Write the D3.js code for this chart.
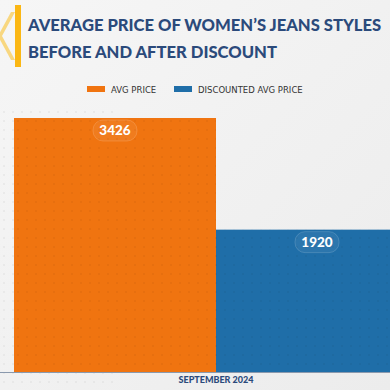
<!DOCTYPE html>
<html>
<head>
<meta charset="utf-8">
<script src="https://cdn.jsdelivr.net/npm/d3@7"></script>
<style>
	html, body { margin: 0; padding: 0; background: #f0f0f0; }
	#app { width: 390px; height: 390px; }
</style>
</head>
<body>
<div id="app"></div>
<script>
const months = ['SEPTEMBER 2024'];
const seriesNames = ['AVG PRICE', 'DISCOUNTED AVG PRICE'];
const seriesColors = ['#f07410', '#1f6ea8'];
const avgPrice = [3426];
const discountedPrice = [1920];
const titleLines = ['AVERAGE PRICE OF WOMEN\u2019S JEANS STYLES', 'BEFORE AND AFTER DISCOUNT'];

const width = 390;
const height = 390;
const svg = d3.select('#app').append('svg')
	.attr('width', width)
	.attr('height', height);

const defs = svg.append('defs');
const bgGrad = defs.append('linearGradient').attr('id', 'bg')
	.attr('x1', 0).attr('y1', 0).attr('x2', 1).attr('y2', 1);
bgGrad.append('stop').attr('offset', 0).attr('stop-color', '#f6f6f6');
bgGrad.append('stop').attr('offset', 1).attr('stop-color', '#ececec');

const dots = defs.append('pattern').attr('id', 'dots')
	.attr('width', 9).attr('height', 9).attr('patternUnits', 'userSpaceOnUse');
dots.append('circle').attr('cx', 4).attr('cy', 4).attr('r', 1).attr('fill', 'rgba(0,0,0,0.05)');

svg.append('rect').attr('width', width).attr('height', height).attr('fill', 'url(#bg)');
svg.append('rect').attr('x', 0).attr('y', 110).attr('width', 120).attr('height', 280).attr('fill', 'url(#dots)');

// header decoration
svg.append('path')
	.attr('d', 'M15,12 L2,36 L15,60 L11,60 L-2,36 L11,12 Z')
	.attr('fill', '#f9cf63').attr('opacity', 0.8);
svg.append('rect').attr('x', 15).attr('y', 5).attr('width', 6).attr('height', 62).attr('fill', '#fbb714');

svg.append('g').selectAll('text')
	.data(titleLines)
	.join('text')
	.attr('x', 28)
	.attr('y', (d, i) => 31 + i * 27)
	.attr('fill', '#2b4a7b')
	.attr('font-family', 'Lato, sans-serif')
	.attr('font-weight', 900)
	.attr('font-size', 16.6)
	.text((d) => d);

// legend
const legendX = [87, 174];
const legend = svg.append('g').selectAll('g')
	.data(seriesNames)
	.join('g')
	.attr('transform', (d, i) => `translate(${legendX[i]}, 89)`);
legend.append('rect').attr('x', 0).attr('y', -3).attr('width', 18).attr('height', 6)
	.attr('fill', (d, i) => seriesColors[i]);
legend.append('text').attr('x', 24).attr('y', 3.5)
	.attr('font-family', 'DejaVu Sans, sans-serif')
	.attr('font-size', 8.5)
	.attr('fill', '#333')
	.text((d) => d);

// chart
const x0 = d3.scaleBand().domain(months).range([14, 418]).padding(0);
const x1 = d3.scaleBand().domain(seriesNames).range([0, x0.bandwidth()]).padding(0);
const y = d3.scaleLinear().domain([0, 3426]).range([372, 118]);

const rows = months.map((m, i) => ({ month: m, values: [avgPrice[i], discountedPrice[i]] }));

const groups = svg.append('g').selectAll('g')
	.data(rows)
	.join('g')
	.attr('transform', (d) => `translate(${x0(d.month)},0)`);

const bars = groups.selectAll('g')
	.data((d) => d.values.map((v, i) => ({ key: seriesNames[i], value: v, i })))
	.join('g');

bars.append('rect')
	.attr('x', (d) => x1(d.key))
	.attr('y', (d) => y(d.value))
	.attr('width', x1.bandwidth())
	.attr('height', (d) => y(0) - y(d.value))
	.attr('fill', (d) => seriesColors[d.i]);
bars.append('rect')
	.attr('x', (d) => x1(d.key))
	.attr('y', (d) => y(d.value))
	.attr('width', x1.bandwidth())
	.attr('height', (d) => y(0) - y(d.value))
	.attr('fill', 'url(#dots)');

bars.append('rect')
	.attr('x', (d) => x1(d.key) + x1.bandwidth() / 2 - 22)
	.attr('y', (d) => y(d.value) + 2)
	.attr('width', 44)
	.attr('height', 21)
	.attr('rx', 10)
	.attr('fill', 'rgba(255,255,255,0.06)')
	.attr('stroke', 'rgba(255,255,255,0.15)');
bars.append('text')
	.attr('x', (d) => x1(d.key) + x1.bandwidth() / 2)
	.attr('y', (d) => y(d.value) + 17)
	.attr('text-anchor', 'middle')
	.attr('fill', '#fff')
	.attr('font-family', 'Lato, sans-serif')
	.attr('font-weight', 900)
	.attr('font-size', 13.5)
	.text((d) => d.value);

// x axis
const axis = svg.append('g').attr('transform', `translate(0,${y(0)})`);
axis.append('line').attr('x1', 0).attr('x2', width).attr('y1', 0.5).attr('y2', 0.5)
	.attr('stroke', '#8a99ad').attr('stroke-width', 1);
axis.selectAll('text')
	.data(months)
	.join('text')
	.attr('x', (d) => x0(d) + x0.bandwidth() / 2)
	.attr('y', 10.5)
	.attr('text-anchor', 'middle')
	.attr('fill', '#2b4a7b')
	.attr('font-family', 'Lato, sans-serif')
	.attr('font-weight', 900)
	.attr('font-size', 9)
	.text((d) => d);
</script>
</body>
</html>
